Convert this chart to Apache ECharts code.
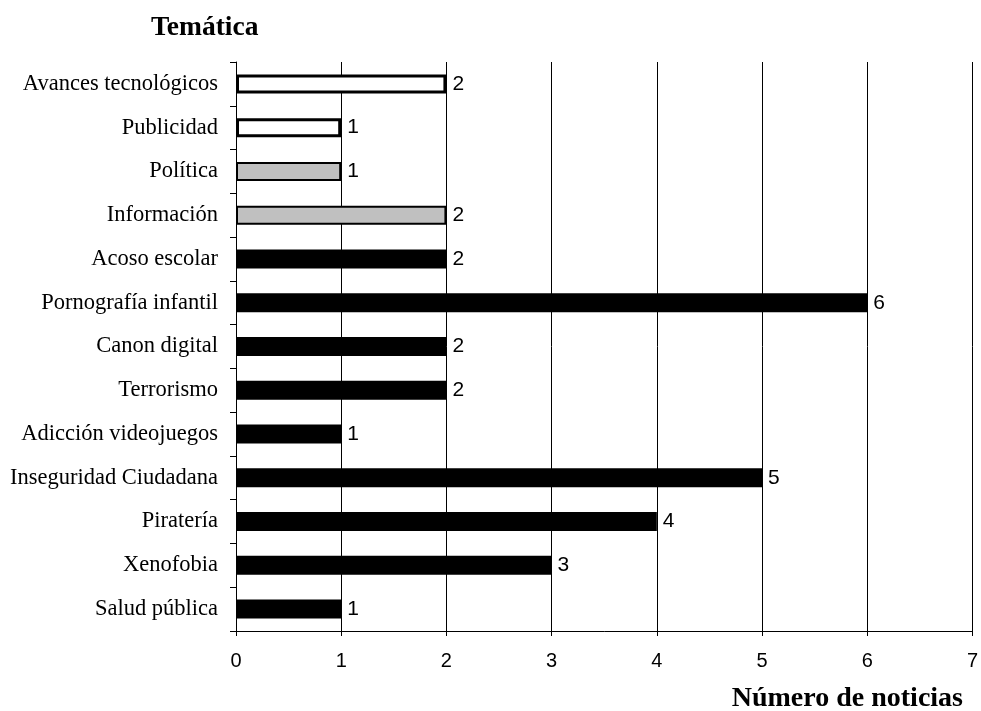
<!DOCTYPE html>
<html><head><meta charset="utf-8">
<script src="https://cdn.jsdelivr.net/npm/echarts@6/dist/echarts.min.js"></script>
<style>html,body{margin:0;padding:0;background:#fff}#c{width:981px;height:711px}</style>
</head><body><div id="c"></div>
<script>
const categories = ["Avances tecnológicos","Publicidad","Política","Información","Acoso escolar","Pornografía infantil","Canon digital","Terrorismo","Adicción videojuegos","Inseguridad Ciudadana","Piratería","Xenofobia","Salud pública"];
const whiteValues = [2,1,'-','-','-','-','-','-','-','-','-','-','-'];
const grayValues = ['-','-',1,2,'-','-','-','-','-','-','-','-','-'];
const blackValues = ['-','-','-','-',2,6,2,2,1,5,4,3,1];
const xTicks = [0,1,2,3,4,5,6,7];

const chart = echarts.init(document.getElementById('c'), null, {renderer:'canvas'});
const lbl = {show:true, position:'right', distance:6, color:'#000', fontFamily:'Liberation Sans, Arial, sans-serif', fontSize:21};
chart.setOption({
  animation:false,
  backgroundColor:'#fff',
  title:[
    {text:'Temática', left:146, top:9, textStyle:{fontFamily:'Liberation Serif, Times New Roman, serif', fontWeight:'bold', fontSize:27.5, color:'#000'}},
    {text:'Número de noticias', right:13, top:680, textStyle:{fontFamily:'Liberation Serif, Times New Roman, serif', fontWeight:'bold', fontSize:28, color:'#000'}}
  ],
  grid:{left:236, right:7, top:62, bottom:80, containLabel:false},
  xAxis:{type:'value', min:xTicks[0], max:xTicks[xTicks.length-1], interval:1,
    axisLine:{show:true, lineStyle:{color:'#000', width:1}},
    axisTick:{show:true, length:5, lineStyle:{color:'#000'}},
    axisLabel:{margin:20, color:'#000', fontFamily:'Liberation Sans, Arial, sans-serif', fontSize:20},
    splitLine:{show:true, lineStyle:{color:'#000', width:1}}},
  yAxis:{type:'category', data:categories, inverse:true,
    axisLine:{show:true, lineStyle:{color:'#000', width:1}},
    axisTick:{show:true, length:6, lineStyle:{color:'#000'}},
    axisLabel:{margin:18, color:'#000', fontFamily:'Liberation Serif, Times New Roman, serif', fontSize:22.5}},
  series:[
    {type:'bar', stack:'a', data:whiteValues, barWidth:19, itemStyle:{color:'#fff', borderColor:'#000', borderWidth:3}, label:lbl},
    {type:'bar', stack:'a', data:grayValues, barWidth:19, itemStyle:{color:'#c0c0c0', borderColor:'#000', borderWidth:2}, label:lbl},
    {type:'bar', stack:'a', data:blackValues, barWidth:20, itemStyle:{color:'#000'}, label:lbl}
  ]
});
</script></body></html>
